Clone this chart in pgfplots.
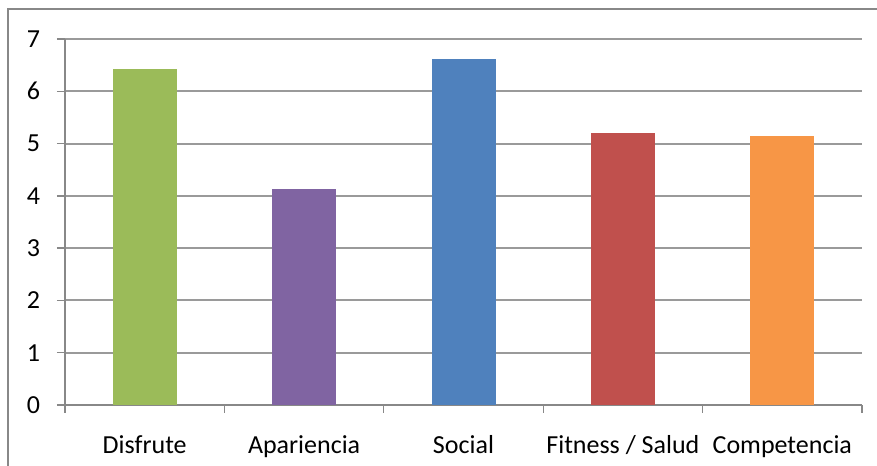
\documentclass[border=0pt]{standalone}
\usepackage{pgfplots}
\pgfplotsset{compat=1.18}
\usepackage{fontspec}
\setmainfont{Carlito}

\definecolor{cgreen}{HTML}{9BBB59}
\definecolor{cpurple}{HTML}{8064A2}
\definecolor{cblue}{HTML}{4F81BD}
\definecolor{cred}{HTML}{C0504D}
\definecolor{corange}{HTML}{F79646}
\definecolor{gridgray}{HTML}{9A9A9A}
\definecolor{axisgray}{HTML}{888888}

\begin{document}
\fontsize{19.5}{23}\selectfont
\begin{tikzpicture}[x=1pt,y=1pt]
\useasboundingbox (-48.75,-45.75) rectangle (609,303.75);
\draw[axisgray, line width=1.5pt] (-42.75,-46) -- (-42.75,297) -- (612,297);
\begin{axis}[
    at={(0,0)}, anchor=south west,
    scale only axis,
    width=597.75pt, height=274.5pt,
    xmin=-0.5, xmax=4.5,
    ymin=0, ymax=7,
    ytick={0,1,2,3,4,5,6,7},
    xtick={0,1,2,3,4},
    xticklabels={Disfrute, Apariencia, Social, Fitness / Salud, Competencia},
    minor xtick={-0.5,0.5,1.5,2.5,3.5,4.5},
    major x tick style={draw=none},
    minor x tick style={axisgray, line width=1pt},
    y tick style={axisgray, line width=1pt},
    tick align=outside,
    major tick length=6pt, minor tick length=6pt,
    axis x line*=bottom, axis y line*=left,
    axis line style={axisgray, line width=1.2pt, -},
    ymajorgrids,
    major grid style={gridgray, line width=1.5pt},
    /pgf/number format/assume math mode=true,
    yticklabel style={font=\fontsize{19.5}{23}\selectfont, xshift=-6pt},
    xticklabel style={font=\fontsize{19.5}{23}\selectfont, yshift=-10pt},
    ticklabel style={text=black},
    bar width=48pt,
    clip=false,
]
\addplot[ybar, bar shift=0pt, fill=cgreen, draw=none] coordinates {(0,6.42)};
\addplot[ybar, bar shift=0pt, fill=cpurple, draw=none] coordinates {(1,4.13)};
\addplot[ybar, bar shift=0pt, fill=cblue, draw=none] coordinates {(2,6.62)};
\addplot[ybar, bar shift=0pt, fill=cred, draw=none] coordinates {(3,5.20)};
\addplot[ybar, bar shift=0pt, fill=corange, draw=none] coordinates {(4,5.14)};
\end{axis}
\end{tikzpicture}
\end{document}
